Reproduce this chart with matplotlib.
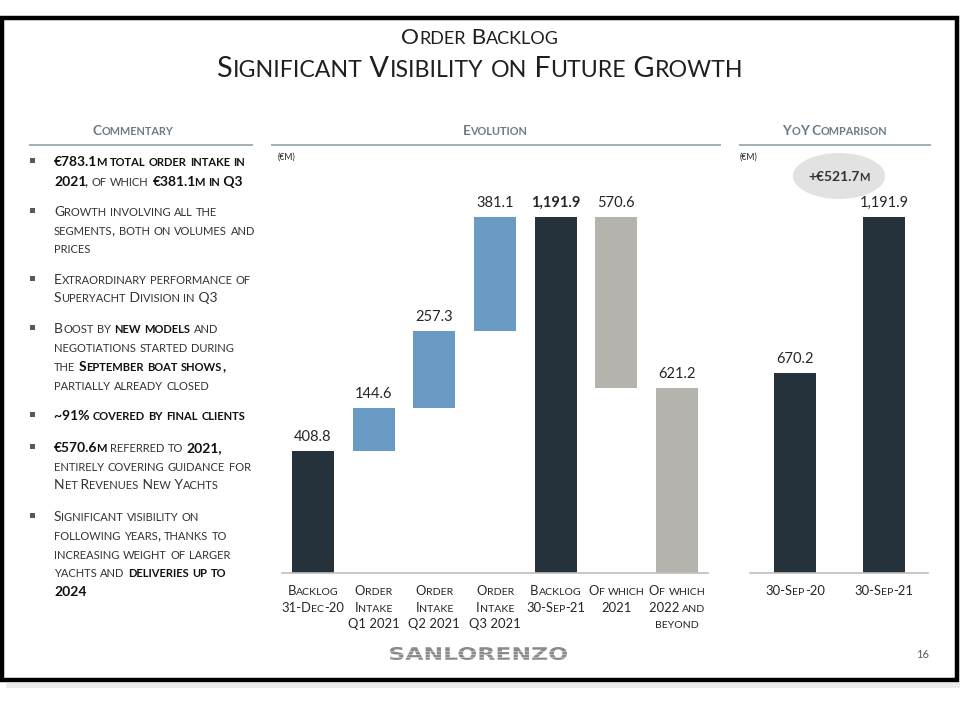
import matplotlib
matplotlib.use("Agg")
import matplotlib.pyplot as plt
from matplotlib.font_manager import FontProperties
from matplotlib.patches import Rectangle, Ellipse, PathPatch
from matplotlib.textpath import TextPath
import matplotlib.transforms as mtransforms

# ---- data ----
wf_labels = ["Backlog\n31-Dec-20", "Order\nIntake\nQ1 2021", "Order\nIntake\nQ2 2021",
             "Order\nIntake\nQ3 2021", "Backlog\n30-Sep-21", "Of which\n2021",
             "Of which\n2022 and\nbeyond"]
wf_values = [408.8, 144.6, 257.3, 381.1, 1191.9, 570.6, 621.2]
wf_kind = ["total", "step", "step", "step", "total", "split", "total"]
wf_text = ["408.8", "144.6", "257.3", "381.1", "1,191.9", "570.6", "621.2"]

yoy_labels = ["30-Sep-20", "30-Sep-21"]
yoy_values = [670.2, 1191.9]
yoy_text = ["670.2", "1,191.9"]
yoy_delta = "+€521.7m"

# commentary: list of bullets, each a list of lines, each line a list of (text, bold)
commentary = [
    [[("€783.1m total order intake in", True)],
     [("2021", True), (", of which ", False), ("€381.1m in Q3", True)]],
    [[("Growth involving all the", False)],
     [("segments, both on volumes and", False)],
     [("prices", False)]],
    [[("Extraordinary performance of", False)],
     [("Superyacht Division in Q3", False)]],
    [[("Boost by ", False), ("new models", True), (" and", False)],
     [("negotiations started during", False)],
     [("the ", False), ("September boat shows,", True)],
     [("partially already closed", False)]],
    [[("~91% covered by final clients", True)]],
    [[("€570.6m", True), (" referred to ", False), ("2021,", True)],
     [("entirely covering guidance for", False)],
     [("Net Revenues New Yachts", False)]],
    [[("Significant visibility on", False)],
     [("following years, thanks to", False)],
     [("increasing weight of larger", False)],
     [("yachts and ", False), ("deliveries up to", True)],
     [("2024", True)]],
]
line_y = [[161, 181], [211, 230, 248], [279, 297], [328, 347, 366, 385],
          [415], [447, 466, 484], [516, 535, 554, 572, 591]]

# ---- style ----
W, H = 960, 720
FONT = "Lato"
SC = 0.8
NAVY = "#25313b"
BLUE = "#6a9bc4"
GREY = "#b4b3ad"
TXT = "#262626"
HEAD = "#6b7b88"
RULE = "#a3b0b6"

fig = plt.figure(figsize=(9.6, 7.2), dpi=100)
fig.patch.set_facecolor("white")
renderer = fig.canvas.get_renderer()


def fx(x):
    return x / W


def fy(y):
    return 1 - y / H


def runs_of(s, size):
    runs = []
    for ch in s:
        if ch.islower():
            t, fs = ch.upper(), size * SC
        else:
            t, fs = ch, size
        if runs and runs[-1][1] == fs:
            runs[-1][0] += t
        else:
            runs.append([t, fs])
    return runs


def width_of(t, fs, bold):
    fp = FontProperties(family=FONT, size=fs, weight="bold" if bold else "normal")
    w1 = renderer.get_text_width_height_descent("|" + t + "|", fp, ismath=False)[0]
    w0 = renderer.get_text_width_height_descent("||", fp, ismath=False)[0]
    return w1 - w0


def smallcaps(x, y, parts, size, color=TXT, ha="left", bold_color=None):
    # parts: list of (text, bold); y is baseline in image pixels
    pieces = []
    for text, bold in parts:
        for t, fs in runs_of(text, size):
            pieces.append([t, fs, bold, width_of(t, fs, bold)])
    # tabular digits leave a wide gap before a small-cap letter
    for a, b in zip(pieces[:-1], pieces[1:]):
        if a[0][-1].isdigit() and b[0][0] != " ":
            a[3] -= 0.14 * size
    total = sum(p[3] for p in pieces)
    if ha == "center":
        x = x - total / 2
    for t, fs, bold, w in pieces:
        c = bold_color if (bold and bold_color) else color
        fig.text(fx(x), fy(y), t, fontsize=fs, fontfamily=FONT,
                 fontweight="bold" if bold else "normal", color=c,
                 ha="left", va="baseline")
        x += w


# ---- slide frame ----
fig.add_artist(Rectangle((fx(2), fy(680)), fx(955), 662 / H, transform=fig.transFigure,
                         fill=False, edgecolor="black", linewidth=3.2))
fig.add_artist(Rectangle((fx(6), fy(688)), fx(954), 5 / H, transform=fig.transFigure,
                         facecolor="#ececec", edgecolor="none"))

# ---- titles ----
smallcaps(480, 44, [("Order Backlog", False)], 16.2, color="#1f1f1f", ha="center")
smallcaps(480, 77, [("Significant Visibility on Future Growth", False)], 20.8,
          color="#1f1f1f", ha="center")

# ---- section headers ----
for cx, x0, x1, label in [(133, 30, 252, "Commentary"), (495, 272, 720, "Evolution"),
                          (835, 740, 930, "YoY Comparison")]:
    smallcaps(cx, 135, [(label, True)], 9.8, color=HEAD, ha="center")
    fig.add_artist(plt.Line2D([fx(x0), fx(x1)], [fy(145), fy(145)], color=RULE,
                              linewidth=1.4, transform=fig.transFigure))

# ---- commentary ----
for bullet, ys in zip(commentary, line_y):
    fig.add_artist(Rectangle((fx(30), fy(ys[0] + 2)), 5 / W, 5 / H,
                             transform=fig.transFigure, facecolor="#595959",
                             edgecolor="none"))
    for line, y in zip(bullet, ys):
        smallcaps(54, y + 5, line, 10.0, color="#333333", bold_color="#111111")

# ---- waterfall ----
PX = 0.2985  # pixels per €M
ax = fig.add_axes([fx(282), fy(573), 426 / W, 423 / H])
ax.set_xlim(-0.51, 6.51)
ax.set_ylim(0, 423 / PX)
ax.axis("off")

running = 0
for i, (v, kind) in enumerate(zip(wf_values, wf_kind)):
    if kind == "total":
        bottom, color = 0, NAVY
        running = v
    elif kind == "step":
        bottom, color = running, BLUE
        running += v
    else:
        bottom, color = running - v, GREY
        running -= v
    if i == 6:
        color = GREY
    ax.bar(i, v, bottom=bottom, width=0.69, color=color, linewidth=0)
    ax.annotate(wf_text[i], (i, bottom + v), xytext=(0, 5), textcoords="offset points",
                ha="center", va="bottom", fontsize=10.5, fontfamily=FONT, color=TXT,
                fontweight="bold" if i == 4 else "normal", annotation_clip=False)
ax.plot([-0.51, 6.51], [0, 0], color="#bfbfbf", linewidth=1.2, clip_on=False)

for i, lab in enumerate(wf_labels):
    cx = 313 + i * 60.67
    for j, part in enumerate(lab.split("\n")):
        smallcaps(cx, 595 + j * 16.5, [(part, False)], 9.4, color=TXT, ha="center")

fig.text(fx(278), fy(160), "(€M)", fontsize=6.3, fontfamily=FONT, color=TXT,
         va="baseline")

# ---- YoY ----
ax2 = fig.add_axes([fx(750), fy(573), 178 / W, 423 / H])
ax2.set_xlim(-0.506, 1.494)
ax2.set_ylim(0, 423 / PX)
ax2.axis("off")
ax2.bar(range(len(yoy_values)), yoy_values, width=0.47, color=NAVY, linewidth=0)
for i, v in enumerate(yoy_values):
    ax2.annotate(yoy_text[i], (i, v), xytext=(0, 5), textcoords="offset points",
                 ha="center", va="bottom", fontsize=10.5, fontfamily=FONT, color=TXT,
                 annotation_clip=False)
ax2.plot([-0.506, 1.494], [0, 0], color="#bfbfbf", linewidth=1.2, clip_on=False)
for i, lab in enumerate(yoy_labels):
    smallcaps(795 + i * 89, 595, [(lab, False)], 9.4, color=TXT, ha="center")

fig.text(fx(740), fy(160), "(€M)", fontsize=6.3, fontfamily=FONT, color=TXT,
         va="baseline")
fig.add_artist(Ellipse((fx(839), fy(176)), 92 / W, 46 / H, transform=fig.transFigure,
                       facecolor="#e2e2e2", edgecolor="none"))
smallcaps(839, 181, [(yoy_delta, True)], 10.0, color="#333333", ha="center")

# ---- footer ----
fig.text(fx(923), fy(655), "16", fontsize=8, fontfamily=FONT, color="#595959",
         ha="center", va="center")
logo = TextPath((0, 0), "SANLORENZO", size=10,
                prop=FontProperties(family="DejaVu Sans", weight="bold"))
ext = logo.get_extents()
sx = 177 / ext.width
sy = 13 / ext.height
tr = mtransforms.Affine2D().translate(-ext.x0, -ext.y0).scale(sx, sy).translate(390, H - 660)
fig.add_artist(PathPatch(logo, transform=tr, facecolor="#8a8a8a", edgecolor="none"))
for yy in [650.5, 653.5, 656.5]:
    fig.add_artist(plt.Line2D([fx(388), fx(569)], [fy(yy), fy(yy)], color="white",
                              linewidth=0.5, alpha=0.6, transform=fig.transFigure))

fig.savefig("out.png", dpi=100, facecolor="white")
